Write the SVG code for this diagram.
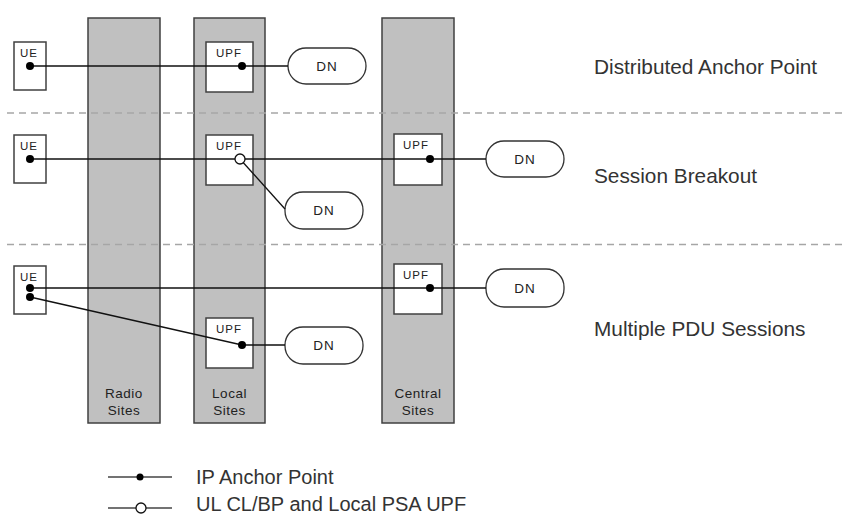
<svg xmlns="http://www.w3.org/2000/svg" width="842" height="516" viewBox="0 0 842 516">
<style>
.col{fill:#c0c0c0;stroke:#404040;stroke-width:1.5}
.box{fill:#fff;stroke:#404040;stroke-width:1.5}
.dn{fill:#fff;stroke:#333;stroke-width:1.3}
.ln{fill:none;stroke:#111;stroke-width:1.3}
.dash{fill:none;stroke:#a6a6a6;stroke-width:1.5;stroke-dasharray:7 5}
.dot{fill:#000}
.odot{fill:#fff;stroke:#111;stroke-width:1.3}
.t{font-family:"Liberation Sans",Arial,sans-serif;fill:#222}
.sm{font-size:11.5px;letter-spacing:1px}
.dnt{font-size:13.5px;letter-spacing:1px;text-anchor:middle}
.site{font-size:13.5px;letter-spacing:0.5px;text-anchor:middle}
.big{font-size:20.8px;fill:#333}
.leg{font-size:20px;fill:#333}
</style>
<g id="columns">
<g id="radio-sites"><rect class="col" x="88" y="18" width="72" height="405"/><text class="t site" x="124" y="398">Radio</text><text class="t site" x="124" y="415">Sites</text></g>
<g id="local-sites"><rect class="col" x="194" y="18" width="71" height="405"/><text class="t site" x="229.5" y="398">Local</text><text class="t site" x="229.5" y="415">Sites</text></g>
<g id="central-sites"><rect class="col" x="382" y="18" width="72" height="405"/><text class="t site" x="418" y="398">Central</text><text class="t site" x="418" y="415">Sites</text></g>
</g>
<g id="separators">
<line class="dash" x1="7" y1="113" x2="842" y2="113"/>
<line class="dash" x1="7" y1="244.5" x2="842" y2="244.5"/>
</g>
<g id="nodes">
<g id="ue1"><rect class="box" x="14" y="42" width="32" height="48"/><text class="t sm" x="20" y="57">UE</text></g>
<g id="ue2"><rect class="box" x="14" y="135" width="32" height="48"/><text class="t sm" x="20" y="150">UE</text></g>
<g id="ue3"><rect class="box" x="14" y="266" width="32" height="48"/><text class="t sm" x="20" y="281">UE</text></g>
<g id="upf-local1"><rect class="box" x="206" y="42" width="47" height="50"/><text class="t sm" x="216" y="57">UPF</text></g>
<g id="upf-local2"><rect class="box" x="206" y="135" width="47" height="50"/><text class="t sm" x="216" y="150">UPF</text></g>
<g id="upf-central2"><rect class="box" x="394" y="134" width="48" height="51"/><text class="t sm" x="403" y="149">UPF</text></g>
<g id="upf-central3"><rect class="box" x="394" y="264" width="48" height="50"/><text class="t sm" x="403" y="279">UPF</text></g>
<g id="upf-local3"><rect class="box" x="206" y="318" width="47" height="50"/><text class="t sm" x="216" y="333">UPF</text></g>
<g id="dn1"><rect class="dn" x="288" y="48" width="78" height="36" rx="18"/><text class="t dnt" x="327" y="71">DN</text></g>
<g id="dn2"><rect class="dn" x="486" y="141" width="78" height="36" rx="18"/><text class="t dnt" x="525" y="164">DN</text></g>
<g id="dn2b"><rect class="dn" x="285" y="192" width="78" height="37" rx="18"/><text class="t dnt" x="324" y="215">DN</text></g>
<g id="dn3"><rect class="dn" x="486" y="269" width="78" height="38" rx="18"/><text class="t dnt" x="525" y="293">DN</text></g>
<g id="dn3b"><rect class="dn" x="285" y="327" width="78" height="37" rx="18"/><text class="t dnt" x="324" y="350">DN</text></g>
</g>
<g id="connectors">
<line class="ln" x1="30" y1="66" x2="288" y2="66"/>
<line class="ln" x1="30" y1="159" x2="486" y2="159"/>
<line class="ln" x1="240" y1="159" x2="285" y2="209"/>
<line class="ln" x1="30" y1="288" x2="486" y2="288"/>
<polyline class="ln" points="30,297 242,345 285,345"/>
<circle class="dot" cx="30" cy="66" r="4"/>
<circle class="dot" cx="242" cy="66" r="4"/>
<circle class="dot" cx="30" cy="159" r="4"/>
<circle class="odot" cx="240" cy="159" r="5"/>
<circle class="dot" cx="430" cy="159" r="4"/>
<circle class="dot" cx="30" cy="288" r="4"/>
<circle class="dot" cx="30" cy="297" r="4"/>
<circle class="dot" cx="430" cy="288" r="4"/>
<circle class="dot" cx="242" cy="345" r="4"/>
</g>
<g id="labels">
<text class="t big" x="594" y="74">Distributed Anchor Point</text>
<text class="t big" x="594" y="183">Session Breakout</text>
<text class="t big" x="594" y="336">Multiple PDU Sessions</text>
</g>
<g id="legend">
<line class="ln" x1="108" y1="477" x2="172" y2="477" style="stroke:#444"/>
<circle class="dot" cx="140" cy="477" r="3.5"/>
<text class="t leg" x="196" y="484">IP Anchor Point</text>
<line class="ln" x1="108" y1="508" x2="172" y2="508" style="stroke:#444"/>
<circle class="odot" cx="141" cy="508" r="5"/>
<text class="t leg" x="196" y="511">UL CL/BP and Local PSA UPF</text>
</g>
</svg>
